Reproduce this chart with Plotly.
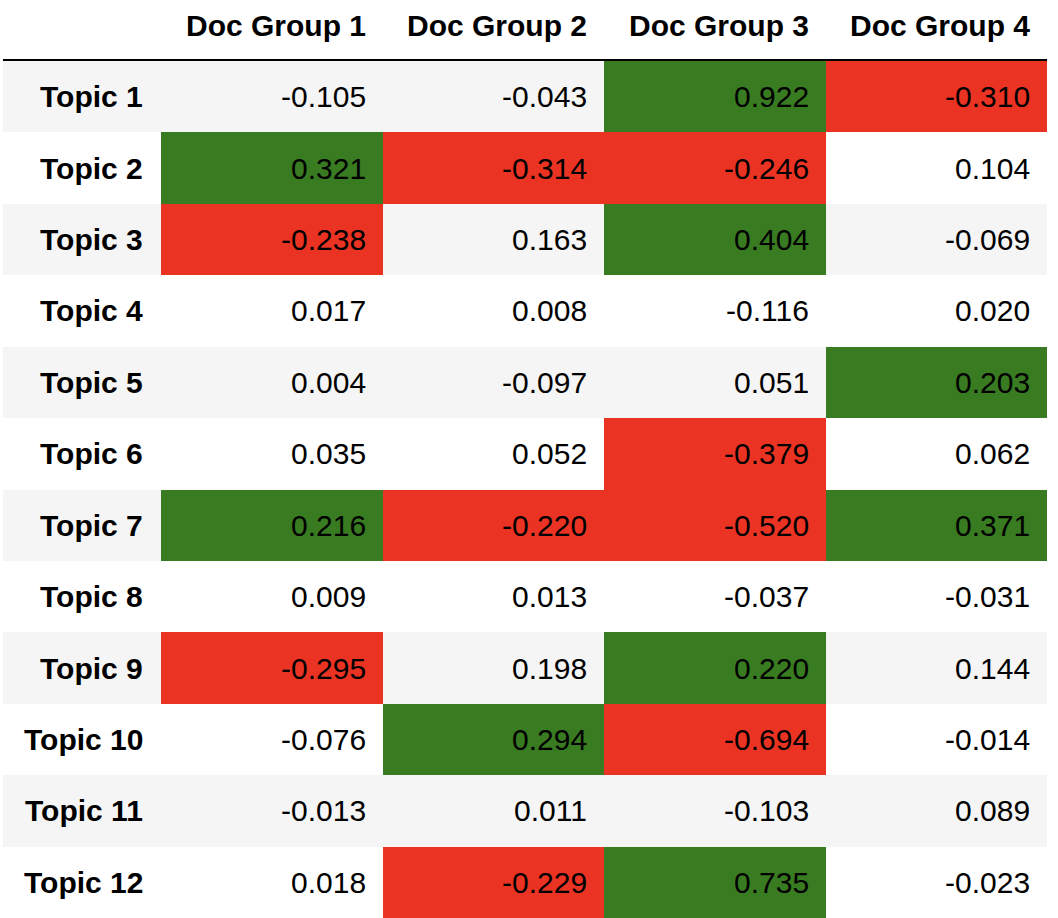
import plotly.graph_objects as go

topics = [f"Topic {i}" for i in range(1, 13)]
groups = ["Doc Group 1", "Doc Group 2", "Doc Group 3", "Doc Group 4"]

doc_group_1 = [-0.105, 0.321, -0.238, 0.017, 0.004, 0.035, 0.216, 0.009, -0.295, -0.076, -0.013, 0.018]
doc_group_2 = [-0.043, -0.314, 0.163, 0.008, -0.097, 0.052, -0.220, 0.013, 0.198, 0.294, 0.011, -0.229]
doc_group_3 = [0.922, -0.246, 0.404, -0.116, 0.051, -0.379, -0.520, -0.037, 0.220, -0.694, -0.103, 0.735]
doc_group_4 = [-0.310, 0.104, -0.069, 0.020, 0.203, 0.062, 0.371, -0.031, 0.144, -0.014, 0.089, -0.023]

columns = [doc_group_1, doc_group_2, doc_group_3, doc_group_4]
THRESH = 0.2

# layout constants (column widths in axis units == pixels)
W, H = 1058, 918
LEFT = 3
IDX_W = 158
COL_W = 221.5
TOP = 61
PAD = 15

edges = [LEFT, LEFT + IDX_W]
for _ in groups:
    edges.append(edges[-1] + COL_W)

WHITE, GRAY, GREEN, RED = "#ffffff", "#f5f5f5", "#387b21", "#ea3323"

z = []
for r in range(len(topics)):
    base = 1 if r % 2 == 0 else 0
    row = [base]
    for c in range(len(groups)):
        v = columns[c][r]
        if v > THRESH:
            row.append(2)
        elif v < -THRESH:
            row.append(3)
        else:
            row.append(base)
    z.append(row)

colorscale = [[0, WHITE], [0.25, WHITE], [0.25, GRAY], [0.5, GRAY],
              [0.5, GREEN], [0.75, GREEN], [0.75, RED], [1, RED]]

fig = go.Figure(go.Heatmap(
    z=z, x=edges, y=topics, zmin=-0.5, zmax=3.5,
    colorscale=colorscale, showscale=False, hoverinfo="skip", xgap=0, ygap=0,
))

FONT = "Liberation Sans, Arial, Helvetica, sans-serif"
FS = 30
ann = []
for r, t in enumerate(topics):
    ann.append(dict(x=edges[1] - 16, y=t, text=f"<b>{t}</b>", xanchor="right",
                    yanchor="middle", showarrow=False,
                    font=dict(family=FONT, size=FS, color="#000")))
    for c in range(len(groups)):
        v = columns[c][r]
        ann.append(dict(x=edges[c + 2] - PAD, y=t, text=f"{v:.3f}", xanchor="right",
                        yanchor="middle", showarrow=False,
                        font=dict(family=FONT, size=FS, color="#000")))
for c, g in enumerate(groups):
    ann.append(dict(x=edges[c + 2] - PAD, y=1, yref="paper", yshift=36, text=f"<b>{g}</b>",
                    xanchor="right", yanchor="middle", showarrow=False,
                    font=dict(family=FONT, size=FS, color="#000")))

fig.update_layout(
    width=W, height=H,
    margin=dict(l=LEFT, r=W - edges[-1], t=TOP, b=0, pad=0),
    paper_bgcolor="white", plot_bgcolor="white",
    xaxis=dict(range=[edges[0], edges[-1]], showgrid=False, zeroline=False,
               showticklabels=False, ticks="", side="top", showline=True,
               linecolor="#000", linewidth=2, mirror=False, fixedrange=True),
    yaxis=dict(autorange="reversed", showgrid=False, zeroline=False,
               showticklabels=False, ticks="", fixedrange=True),
    annotations=ann,
    showlegend=False,
)

fig.write_html("out.html", config={"displayModeBar": False},
               post_script="document.body.style.margin='0';document.body.style.overflow='hidden';")
